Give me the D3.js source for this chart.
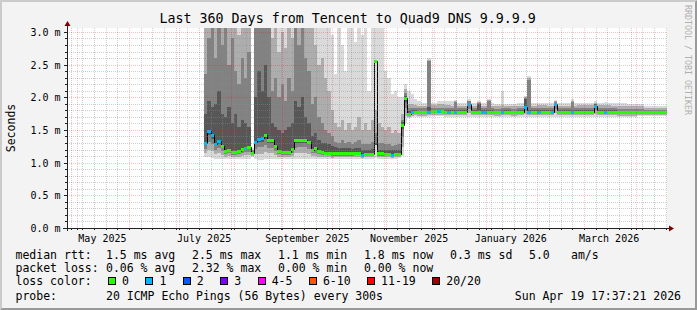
<!DOCTYPE html>
<html>
<head>
<meta charset="utf-8">
<title>Last 360 Days from Tencent to Quad9 DNS 9.9.9.9</title>
<script src="https://cdn.jsdelivr.net/npm/d3@7"></script>
<style>
  body { margin: 0; background: #f3f3f3; }
  svg { display: block; }
  text { font-family: "DejaVu Sans Mono", monospace; fill: #000; white-space: pre; }
</style>
</head>
<body>
<script>
var width = 697;
var height = 310;
var margin = {top: 28, bottom: 82, left: 67, right: 30};
var plotW = width - margin.left - margin.right;   // 600 px = 360 days
var plotH = height - margin.top - margin.bottom;  // 200 px
var yMax = 3.06;                                  // upper limit of the graph (ms)

//Time window
var endTime = new Date(2026, 3, 19, 17, 37, 21);
var startTime = d3.timeDay.offset(endTime, -360);
var sampleStart = new Date(2025, 6, 16);   // first sample with data, one sample every 2 days
var sampleDays = 2;

//Median rtt (ms) per sample
var median = [
  1.30, 1.48, 1.42, 1.28, 1.33, 1.25, 1.18, 1.20, 1.17, 1.16,
  1.18, 1.21, 1.23, 1.24, 1.14, 1.32, 1.36, 1.37, 1.42, 1.35,
  1.35, 1.26, 1.18, 1.16, 1.16, 1.17, 1.21, 1.34, 1.35, 1.35,
  1.35, 1.32, 1.20, 1.22, 1.18, 1.16, 1.15, 1.15, 1.14, 1.14,
  1.14, 1.14, 1.14, 1.14, 1.14, 1.15, 1.15, 1.12, 1.13, 1.13,
  1.13, 2.55, 1.14, 1.14, 1.13, 1.13, 1.12, 1.13, 1.13, 1.58,
  1.99, 1.74, 1.77, 1.78, 1.77, 1.77, 1.77, 1.78, 1.79, 1.79,
  1.79, 1.79, 1.78, 1.78, 1.78, 1.78, 1.78, 1.78, 1.78, 1.90,
  1.78, 1.78, 1.78, 1.78, 1.78, 1.78, 1.78, 1.77, 1.77, 1.78,
  1.78, 1.78, 1.77, 1.77, 1.78, 1.78, 1.85, 1.78, 1.78, 1.78,
  1.78, 1.78, 1.78, 1.78, 1.78, 1.90, 1.78, 1.78, 1.78, 1.78,
  1.78, 1.78, 1.78, 1.78, 1.78, 1.78, 1.78, 1.87, 1.78, 1.78,
  1.78, 1.78, 1.78, 1.78, 1.77, 1.77, 1.77, 1.77, 1.77, 1.77,
  1.77, 1.77, 1.77, 1.77, 1.77, 1.77, 1.77, 1.77, 1.77
];

//Lost pings (of 20) per sample
var loss = [
  1, 1, 1, 1, 1, 0, 0, 0, 0, 0,
  0, 0, 1, 0, 0, 1, 1, 1, 0, 0,
  0, 0, 0, 0, 0, 0, 0, 0, 0, 0,
  0, 0, 0, 0, 0, 0, 0, 0, 0, 0,
  0, 0, 0, 0, 0, 0, 0, 1, 0, 0,
  0, 0, 0, 0, 0, 0, 1, 0, 0, 0,
  0, 0, 1, 0, 0, 0, 0, 1, 0, 0,
  1, 0, 0, 1, 0, 1, 0, 0, 0, 1,
  0, 0, 0, 1, 1, 0, 0, 0, 0, 1,
  0, 0, 0, 0, 0, 0, 1, 1, 0, 0,
  1, 0, 0, 0, 1, 1, 0, 0, 0, 0,
  1, 0, 0, 0, 0, 0, 0, 1, 0, 0,
  1, 0, 0, 0, 0, 0, 0, 0, 0, 0,
  0, 0, 0, 0, 0, 0, 0, 0, 0
];

//Smoke: fastest ping per sample (ms)
var pingMin = [
  1.08, 1.08, 1.07, 1.06, 1.06, 1.06, 1.05, 1.05, 1.05, 1.05,
  1.05, 1.05, 1.06, 1.06, 1.08, 1.05, 1.04, 1.04, 1.05, 1.05,
  1.05, 1.05, 1.05, 1.05, 1.05, 1.05, 1.05, 1.06, 1.06, 1.06,
  1.06, 1.06, 1.05, 1.05, 1.05, 1.05, 1.05, 1.05, 1.05, 1.06,
  1.06, 1.06, 1.06, 1.06, 1.06, 1.06, 1.06, 1.06, 1.06, 1.06,
  1.06, 1.07, 1.06, 1.06, 1.06, 1.06, 1.06, 1.06, 1.07, 1.10,
  1.60, 1.68, 1.70, 1.70, 1.70, 1.70, 1.70, 1.70, 1.71, 1.71,
  1.71, 1.71, 1.70, 1.70, 1.70, 1.70, 1.70, 1.70, 1.70, 1.70,
  1.70, 1.70, 1.70, 1.70, 1.70, 1.70, 1.70, 1.70, 1.70, 1.70,
  1.70, 1.70, 1.70, 1.70, 1.70, 1.70, 1.70, 1.70, 1.70, 1.70,
  1.70, 1.70, 1.70, 1.70, 1.70, 1.70, 1.70, 1.70, 1.70, 1.70,
  1.70, 1.70, 1.70, 1.70, 1.70, 1.70, 1.70, 1.70, 1.70, 1.70,
  1.70, 1.70, 1.70, 1.70, 1.70, 1.70, 1.70, 1.70, 1.70, 1.70,
  1.71, 1.71, 1.71, 1.71, 1.71, 1.71, 1.71, 1.71, 1.71
];

//Smoke: 60th percentile ping
var ping60 = [
  1.75, 1.95, 1.85, 1.90, 2.10, 1.75, 1.70, 1.85, 1.60, 1.75,
  1.55, 1.65, 1.60, 1.55, 1.17, 2.00, 2.40, 2.10, 2.50, 2.00,
  1.60, 1.55, 1.50, 1.45, 1.50, 1.55, 1.60, 1.95, 1.85, 2.00,
  1.70, 1.60, 1.40, 1.45, 1.35, 1.30, 1.30, 1.28, 1.25, 1.24,
  1.22, 1.22, 1.23, 1.22, 1.21, 1.22, 1.22, 1.20, 1.20, 1.20,
  1.21, 1.30, 1.20, 1.20, 1.20, 1.20, 1.19, 1.19, 1.20, 1.62,
  2.02, 1.79, 1.80, 1.80, 1.79, 1.79, 1.79, 1.85, 1.81, 1.81,
  1.81, 1.81, 1.80, 1.80, 1.80, 1.80, 1.80, 1.80, 1.80, 1.92,
  1.80, 1.80, 1.90, 1.80, 1.80, 1.80, 1.80, 1.79, 1.79, 1.80,
  1.80, 1.80, 1.79, 1.79, 1.80, 1.80, 1.98, 1.80, 1.80, 1.80,
  1.80, 1.80, 1.80, 1.80, 1.80, 1.92, 1.80, 1.80, 1.80, 1.80,
  1.80, 1.80, 1.80, 1.80, 1.80, 1.80, 1.80, 1.89, 1.80, 1.80,
  1.80, 1.80, 1.80, 1.80, 1.79, 1.79, 1.79, 1.79, 1.79, 1.79,
  1.79, 1.79, 1.79, 1.79, 1.79, 1.79, 1.79, 1.79, 1.79
];

//Smoke: 75th percentile ping
var ping75 = [
  2.35, 2.90, 3.30, 2.60, 3.30, 2.80, 3.30, 2.50, 2.90, 2.40,
  2.20, 2.60, 2.30, 2.70, 1.19, 3.30, 3.30, 3.30, 3.30, 3.30,
  2.10, 2.30, 2.00, 2.20, 1.95, 2.30, 2.10, 3.30, 2.80, 3.10,
  2.60, 2.40, 1.90, 2.00, 1.70, 1.60, 1.50, 1.45, 1.40, 1.32,
  1.30, 1.34, 1.30, 1.32, 1.29, 1.31, 1.34, 1.28, 1.29, 1.28,
  1.31, 1.45, 1.30, 1.30, 1.28, 1.28, 1.26, 1.27, 1.28, 1.66,
  2.06, 1.83, 1.84, 1.83, 1.83, 1.83, 1.83, 2.55, 1.84, 1.84,
  1.84, 1.84, 1.83, 1.83, 1.83, 1.93, 1.83, 1.83, 1.83, 1.94,
  1.83, 1.83, 1.92, 1.83, 1.83, 1.94, 1.83, 1.82, 1.82, 1.83,
  1.83, 1.83, 1.82, 1.82, 1.83, 1.83, 1.99, 2.27, 1.83, 1.83,
  1.83, 1.83, 1.83, 1.83, 1.83, 1.93, 1.83, 1.83, 1.83, 1.83,
  1.93, 1.83, 1.83, 1.83, 1.83, 1.83, 1.83, 1.90, 1.83, 1.83,
  1.83, 1.83, 1.83, 1.83, 1.82, 1.82, 1.82, 1.82, 1.82, 1.82,
  1.82, 1.82, 1.81, 1.81, 1.81, 1.81, 1.81, 1.81, 1.81
];

//Smoke: 90th percentile ping
var ping90 = [
  3.30, 3.30, 3.40, 3.30, 3.40, 3.30, 3.40, 3.30, 3.30, 3.30,
  2.95, 3.30, 3.10, 3.30, 1.20, 3.40, 3.40, 3.40, 3.40, 3.40,
  2.90, 3.30, 2.70, 3.00, 2.75, 3.30, 2.90, 3.40, 3.30, 3.30,
  3.30, 3.20, 3.30, 2.80, 2.50, 2.60, 2.30, 2.10, 1.80, 1.60,
  1.55, 1.65, 1.50, 1.60, 1.50, 1.55, 1.70, 1.50, 1.60, 1.50,
  1.65, 1.80, 1.60, 1.55, 1.50, 1.55, 1.45, 1.50, 1.45, 1.75,
  2.12, 1.90, 1.90, 1.88, 1.87, 1.87, 1.87, 2.57, 1.88, 1.88,
  1.89, 1.89, 1.88, 1.88, 1.87, 1.95, 1.87, 1.87, 1.87, 1.95,
  1.87, 1.87, 1.93, 1.87, 1.87, 1.96, 1.87, 1.86, 1.86, 1.88,
  1.87, 1.87, 1.86, 1.86, 1.87, 1.87, 2.00, 2.30, 1.87, 1.87,
  1.88, 1.88, 1.88, 1.87, 1.87, 1.94, 1.87, 1.87, 1.87, 1.87,
  1.95, 1.87, 1.88, 1.88, 1.88, 1.88, 1.88, 1.91, 1.88, 1.88,
  1.88, 1.88, 1.87, 1.87, 1.87, 1.87, 1.87, 1.86, 1.86, 1.86,
  1.86, 1.86, 1.84, 1.84, 1.84, 1.84, 1.84, 1.84, 1.84
];

//Smoke: slowest ping
var pingMax = [
  3.50, 3.50, 3.50, 3.50, 3.50, 3.50, 3.50, 3.50, 3.50, 3.50,
  3.50, 3.50, 3.50, 3.50, 1.22, 3.50, 3.50, 3.50, 3.50, 3.50,
  3.50, 3.50, 3.50, 3.50, 3.50, 3.50, 3.50, 3.50, 3.50, 3.50,
  3.50, 3.50, 3.50, 3.50, 3.40, 3.40, 3.40, 3.30, 2.95, 2.35,
  3.30, 2.80, 2.40, 3.30, 3.30, 2.85, 3.30, 2.95, 3.30, 2.10,
  3.30, 3.30, 3.30, 3.20, 2.40, 2.30, 2.05, 2.10, 2.00, 2.00,
  2.20, 2.10, 2.05, 1.98, 1.95, 1.92, 1.91, 2.60, 1.92, 1.92,
  1.94, 1.94, 1.94, 1.94, 1.94, 1.96, 1.91, 1.91, 1.91, 1.97,
  1.91, 1.91, 1.95, 1.91, 1.91, 1.98, 1.91, 1.90, 1.90, 2.09,
  1.90, 1.90, 1.90, 1.90, 1.91, 1.91, 2.02, 2.32, 1.91, 1.91,
  1.92, 1.92, 1.92, 1.92, 1.91, 1.96, 1.91, 1.91, 1.91, 1.91,
  1.97, 1.91, 1.92, 1.92, 1.92, 1.92, 1.92, 1.94, 1.92, 1.92,
  1.93, 1.92, 1.92, 1.91, 1.92, 1.92, 1.92, 1.90, 1.90, 1.90,
  1.90, 1.90, 1.86, 1.86, 1.86, 1.86, 1.86, 1.86, 1.86
];

//Axis ticks and labels
var yTicks = [0.0, 0.5, 1.0, 1.5, 2.0, 2.5, 3.0];
var monthLabels = ["May 2025", "July 2025", "September 2025", "November 2025", "January 2026", "March 2026"];

//Loss colour legend
var lossLabels = ["0", "1", "2", "3", "4-5", "6-10", "11-19", "20/20"];
var lossColors = ["#26ff00", "#00b8ff", "#0059ff", "#7e00ff", "#ff00ff", "#ff5500", "#ff0000", "#a10000"];
var lossUpper = [0, 1, 2, 3, 5, 10, 19, 20];

//Legend statistics
var rttStats = ["1.5 ms avg", "2.5 ms max", "1.1 ms min", "1.8 ms now", "0.3 ms sd"];
var amStats = ["5.0", "am/s"];
var lossStats = ["0.06 % avg", "2.32 % max", "0.00 % min", "0.00 % now"];
var probeText = "20 ICMP Echo Pings (56 Bytes) every 300s";
var stampText = "Sun Apr 19 17:37:21 2026";


//Build the samples
var samples = median.map(function(m, i) {
  return {
    date: d3.timeDay.offset(sampleStart, i * sampleDays),
    median: m,
    loss: loss[i],
    lo: pingMin[i],
    p60: ping60[i],
    p75: ping75[i],
    p90: ping90[i],
    pMax: pingMax[i]
  };
});
//extra point so the last step gets its width
var last = samples[samples.length - 1];
var stepData = samples.concat([Object.assign({}, last, {date: d3.timeDay.offset(last.date, sampleDays)})]);

function lossColor(n) {
  for (var k = 0; k < lossUpper.length; k++) {
    if (n <= lossUpper[k]) return lossColors[k];
  }
  return lossColors[lossColors.length - 1];
}


//Canvas
var svg = d3.select("body")
  .append("svg")
  .attr("width", width)
  .attr("height", height);

svg.append("rect")
  .attr("width", width)
  .attr("height", height)
  .attr("fill", "#f3f3f3");

//3d frame
svg.append("path")
  .attr("d", "M0,310 L0,0 L697,0 L695,2 L2,2 L2,308 Z")
  .attr("fill", "#cbcbcb");
svg.append("path")
  .attr("d", "M697,0 L697,310 L0,310 L2,308 L695,308 L695,2 Z")
  .attr("fill", "#999999");

//Scales
var xScale = d3.scaleTime()
  .domain([startTime, endTime])
  .range([margin.left, margin.left + plotW]);

var yScale = d3.scaleLinear()
  .domain([0, yMax])
  .range([margin.top + plotH, margin.top]);

//Plot area
svg.append("rect")
  .attr("x", margin.left)
  .attr("y", margin.top)
  .attr("width", plotW)
  .attr("height", plotH)
  .attr("fill", "#ffffff");

svg.append("clipPath")
  .attr("id", "plotclip")
  .append("rect")
  .attr("x", margin.left)
  .attr("y", margin.top)
  .attr("width", plotW)
  .attr("height", plotH);

var graph = svg.append("g").attr("clip-path", "url(#plotclip)");

function px(d) { return Math.round(xScale(d.date)); }

//Smoke bands, light outside, dark near the median
var bands = [
  {key: "pMax", f: 0.0, color: "#dadada"},
  {key: "p90", f: 0.3, color: "#adadad"},
  {key: "p75", f: 0.6, color: "#828282"},
  {key: "p60", f: 0.85, color: "#575757"}
];

bands.forEach(function(b) {
  var area = d3.area()
    .curve(d3.curveStepAfter)
    .x(px)
    .y0(function(d) { return Math.round(yScale(d.lo + b.f * (Math.min(d.median, d[b.key]) - d.lo))); })
    .y1(function(d) { return Math.round(yScale(d[b.key])); });

  graph.append("path")
    .datum(stepData)
    .attr("d", area)
    .attr("fill", b.color);
});

//Median: thin black step line
var medianLine = d3.line()
  .curve(d3.curveStepAfter)
  .x(function(d) { return px(d) + 0.5; })
  .y(function(d) { return Math.round(yScale(d.median)) + 0.5; });

graph.append("path")
  .datum(stepData)
  .attr("d", medianLine)
  .attr("fill", "none")
  .attr("stroke", "#000000")
  .attr("stroke-width", 1);

//Median: loss coloured segments
graph.selectAll("line.median")
  .data(samples)
  .enter()
  .append("line")
  .attr("class", "median")
  .attr("x1", function(d) { return px(d); })
  .attr("x2", function(d, i) { return px(stepData[i + 1]); })
  .attr("y1", function(d) { return Math.round(yScale(d.median)) + 0.5; })
  .attr("y2", function(d) { return Math.round(yScale(d.median)) + 0.5; })
  .attr("stroke", function(d) { return lossColor(d.loss); })
  .attr("stroke-width", 3);

//Grid (drawn over the graph like rrdtool does), dotted 1 on 1 off
var grid = svg.append("g").attr("shape-rendering", "crispEdges");
var minorGrid = "rgba(140,140,140,0.42)";
var majorGrid = "rgba(240,0,0,0.24)";

var minorY = d3.range(1, 31).filter(function(v) { return v % 5 != 0; }).map(function(v) { return v / 10; });
var weeks = d3.timeSunday.range(startTime, endTime);
var months = d3.timeMonth.range(startTime, endTime);

function hLines(cls, values, color) {
  grid.selectAll("line." + cls)
    .data(values)
    .enter()
    .append("line")
    .attr("class", cls)
    .attr("x1", margin.left)
    .attr("x2", margin.left + plotW)
    .attr("y1", function(d) { return Math.round(yScale(d)) + 0.5; })
    .attr("y2", function(d) { return Math.round(yScale(d)) + 0.5; })
    .attr("stroke", color)
    .attr("stroke-dasharray", "1,1");
}

function vLines(cls, values, color) {
  grid.selectAll("line." + cls)
    .data(values)
    .enter()
    .append("line")
    .attr("class", cls)
    .attr("x1", function(d) { return Math.round(xScale(d)) + 0.5; })
    .attr("x2", function(d) { return Math.round(xScale(d)) + 0.5; })
    .attr("y1", margin.top)
    .attr("y2", margin.top + plotH)
    .attr("stroke", color)
    .attr("stroke-dasharray", "1,1");
}

hLines("minory", minorY, minorGrid);
vLines("minorx", weeks.filter(function(w) { return w.getDate() != 1; }), minorGrid);
hLines("majory", yTicks.slice(1), majorGrid);
vLines("majorx", months, majorGrid);

//Axes
var axis = svg.append("g").attr("shape-rendering", "crispEdges");
var x0 = margin.left + 0.5;
var y0 = margin.top + plotH + 0.5;

axis.append("line")
  .attr("x1", margin.left - 4).attr("x2", margin.left + plotW + 3)
  .attr("y1", y0).attr("y2", y0)
  .attr("stroke", "#222222");
axis.append("line")
  .attr("x1", x0).attr("x2", x0)
  .attr("y1", margin.top - 2).attr("y2", margin.top + plotH + 3)
  .attr("stroke", "#222222");

//Y ticks
axis.selectAll("line.ytick")
  .data(minorY.concat(yTicks))
  .enter()
  .append("line")
  .attr("class", "ytick")
  .attr("x1", function(d) { return yTicks.indexOf(d) >= 0 ? margin.left - 3 : margin.left - 2; })
  .attr("x2", margin.left)
  .attr("y1", function(d) { return Math.round(yScale(d)) + 0.5; })
  .attr("y2", function(d) { return Math.round(yScale(d)) + 0.5; })
  .attr("stroke", "#222222");

//X ticks
axis.selectAll("line.xtick")
  .data(weeks.concat(months))
  .enter()
  .append("line")
  .attr("class", "xtick")
  .attr("x1", function(d) { return Math.round(xScale(d)) + 0.5; })
  .attr("x2", function(d) { return Math.round(xScale(d)) + 0.5; })
  .attr("y1", margin.top + plotH)
  .attr("y2", margin.top + plotH + 2)
  .attr("stroke", "#222222");

//Arrows
svg.append("path")
  .attr("d", "M" + (margin.left + plotW + 2) + "," + (y0 - 3) + " L" + (margin.left + plotW + 7) + "," + y0 + " L" + (margin.left + plotW + 2) + "," + (y0 + 3) + " Z")
  .attr("fill", "#7f0000");
svg.append("path")
  .attr("d", "M" + (x0 - 3) + "," + (margin.top - 2) + " L" + x0 + "," + (margin.top - 7) + " L" + (x0 + 3) + "," + (margin.top - 2) + " Z")
  .attr("fill", "#7f0000");

//Y labels
svg.selectAll("text.ylabel")
  .data(yTicks)
  .enter()
  .append("text")
  .attr("class", "ylabel")
  .attr("x", 60.5)
  .attr("y", function(d) { return Math.round(yScale(d)) + 4; })
  .attr("text-anchor", "end")
  .style("font-size", "10px")
  .text(function(d) { return d3.format(".1f")(d) + " m"; });

//X labels, every second month, centred mid month
var labelDates = d3.timeMonth.every(2).range(new Date(2025, 4, 1), endTime);
svg.selectAll("text.xlabel")
  .data(labelDates)
  .enter()
  .append("text")
  .attr("class", "xlabel")
  .attr("x", function(d) { return xScale(d3.timeDay.offset(d, 15)); })
  .attr("y", 241.5)
  .attr("text-anchor", "middle")
  .style("font-size", "10px")
  .text(function(d, i) { return monthLabels[i]; });

//Title
svg.append("text")
  .attr("x", 347.7)
  .attr("y", 23.3)
  .attr("text-anchor", "middle")
  .style("font-size", "13.3px")
  .text("Last 360 Days from Tencent to Quad9 DNS 9.9.9.9");

//Y axis label
svg.append("text")
  .attr("transform", "translate(15," + (margin.top + 100) + ") rotate(-90)")
  .attr("text-anchor", "middle")
  .style("font-size", "11.5px")
  .text("Seconds");

//Watermark
svg.append("text")
  .attr("transform", "translate(685,5) rotate(90)")
  .style("font-size", "8.3px")
  .style("fill", "#b0b0b0")
  .text("RRDTOOL / TOBI OETIKER");

//Legend
var legend = svg.append("g").style("font-size", "11.5px");
var rowY = [258.5, 271.7, 285, 300];
var colX = [15.5, 106, 192, 278, 364, 450];

legend.append("text").attr("x", colX[0]).attr("y", rowY[0]).text("median rtt:");
rttStats.forEach(function(s, i) {
  legend.append("text").attr("x", colX[i + 1]).attr("y", rowY[0]).text(s);
});
legend.append("text").attr("x", 529).attr("y", rowY[0]).text(amStats[0]);
legend.append("text").attr("x", 571).attr("y", rowY[0]).text(amStats[1]);

legend.append("text").attr("x", colX[0]).attr("y", rowY[1]).text("packet loss:");
lossStats.forEach(function(s, i) {
  legend.append("text").attr("x", colX[i + 1]).attr("y", rowY[1]).text(s);
});

legend.append("text").attr("x", colX[0]).attr("y", rowY[2]).text("loss color:");
var cursor = 108;
lossLabels.forEach(function(lab, i) {
  legend.append("rect")
    .attr("x", cursor + 0.5)
    .attr("y", rowY[2] - 7.5)
    .attr("width", 7)
    .attr("height", 7)
    .attr("fill", lossColors[i])
    .attr("stroke", "#000000")
    .attr("shape-rendering", "crispEdges");
  legend.append("text").attr("x", cursor + 14).attr("y", rowY[2]).text(lab);
  cursor = cursor + 14 + lab.length * 6.92 + 16.5;
});

legend.append("text").attr("x", colX[0]).attr("y", rowY[3]).text("probe:");
legend.append("text").attr("x", colX[1]).attr("y", rowY[3]).text(probeText);
legend.append("text").attr("x", 681).attr("y", rowY[3]).attr("text-anchor", "end").text(stampText);
</script>
</body>
</html>
